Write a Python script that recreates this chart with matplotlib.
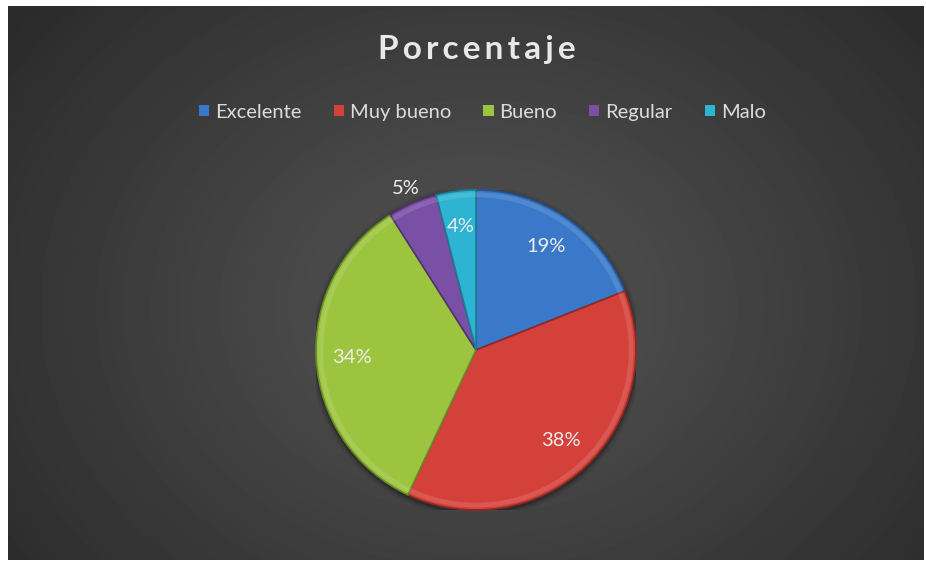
import numpy as np
import matplotlib.pyplot as plt
from matplotlib.patches import Patch, Wedge

# data
categories = ["Excelente", "Muy bueno", "Bueno", "Regular", "Malo"]
values = [19, 38, 34, 5, 4]
colors = ["#3a79c9", "#d4413a", "#9cc43e", "#7a4fa6", "#2db4d2"]
edge_colors = ["#24548f", "#8f2823", "#6a8a25", "#50336f", "#1d7c91"]

W, H = 926, 561
fig = plt.figure(figsize=(W / 100, H / 100), dpi=100, facecolor="white")

# dark radial-gradient background
bg = fig.add_axes([8 / W, 1 / H, (924 - 8) / W, (555 - 1) / H])
yy, xx = np.mgrid[0:554, 0:916]
d = np.sqrt(((xx - 470) / 600) ** 2 + ((yy - 300) / 480) ** 2)
shade = np.clip(0.335 - 0.17 * d, 0.17, 0.34)
bg.imshow(shade, cmap="gray", vmin=0, vmax=1, aspect="auto", interpolation="bilinear")
bg.set_axis_off()

# pie axes: center (476, 350) px, radius 160 px
cx, cy, r = 476, 350, 160
ax = fig.add_axes([(cx - r) / W, (H - cy - r) / H, 2 * r / W, 2 * r / H])

# soft shadow
for k, a in zip([1.035, 1.02, 1.01], [0.08, 0.12, 0.18]):
    ax.add_patch(plt.Circle((0.0, -0.01), k, color="black", alpha=a, lw=0))

wedges, _ = ax.pie(values, colors=colors, startangle=90, counterclock=False,
                   radius=1.0, wedgeprops=dict(linewidth=1.2))
for w, ec in zip(wedges, edge_colors):
    w.set_edgecolor(ec)

# subtle inner highlight for bevel look
for w in wedges:
    ax.add_patch(Wedge((0, 0), 0.985, w.theta1, w.theta2, width=0.03,
                       facecolor="white", alpha=0.12, lw=0))

ax.set_xlim(-1.0, 1.0)
ax.set_ylim(-1.0, 1.0)
ax.set_aspect("equal")
ax.set_axis_off()

# percent labels
for w, v in zip(wedges, values):
    ang = np.deg2rad((w.theta1 + w.theta2) / 2)
    dist = 1.1 if v == 5 else 0.78
    ax.text(dist * np.cos(ang), dist * np.sin(ang), f"{v}%", ha="center", va="center",
            color="#eeeeee", fontsize=14.5, family=["Lato", "DejaVu Sans"], clip_on=False)

fig.text(0.515, 1 - 50 / H, "P o r c e n t a j e".replace(" ", "\u2009"), ha="center", va="center",
         color="#e8e8e8", fontsize=24, fontweight="bold", family=["Lato", "DejaVu Sans"])

handles = [Patch(facecolor=c, edgecolor="none") for c in colors]
leg = fig.legend(handles, categories, loc="center", bbox_to_anchor=(0.521, 1 - 112 / H), ncol=5,
                 frameon=False, handlelength=0.5, handleheight=0.5, handletextpad=0.3,
                 columnspacing=1.6, prop=dict(family="Lato", size=14.5))
for t in leg.get_texts():
    t.set_color("#dcdcdc")

fig.savefig("out.png", dpi=100, facecolor="white")
